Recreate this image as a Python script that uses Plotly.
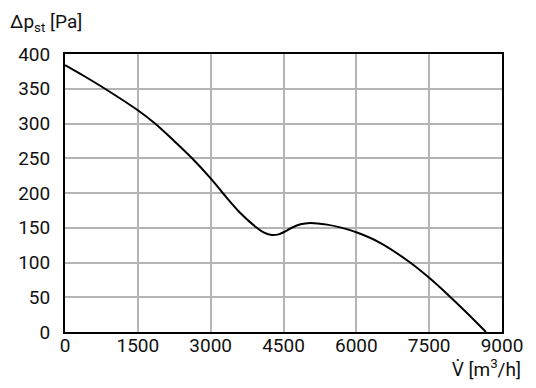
import plotly.graph_objects as go

flow = [0, 400, 824, 1500, 1854, 2200, 2617, 3000, 3249, 3600, 3950, 4100, 4259, 4400, 4500, 4671, 4850, 5048, 5400, 5666, 6000, 6500, 7108, 7500, 7897, 8300, 8670]
pressure = [384, 368, 350, 319, 300, 278, 250, 221, 200, 172, 150, 143, 139.5, 140.5, 143.5, 150, 155, 157, 154.5, 150.5, 143.5, 128, 100, 78, 53, 26, 0]

x_ticks = [0, 1500, 3000, 4500, 6000, 7500, 9000]
y_ticks = [0, 50, 100, 150, 200, 250, 300, 350, 400]

FONT = "Roboto"

fig = go.Figure()
fig.add_trace(go.Scatter(
    x=flow, y=pressure, mode="lines",
    line=dict(color="black", width=2, shape="spline", smoothing=1.0),
    hoverinfo="skip", showlegend=False,
))

axis_common = dict(
    showline=True, linecolor="black", linewidth=2, mirror=True,
    showgrid=True, gridcolor="#b4b4b4", gridwidth=1.5,
    zeroline=False, ticks="", automargin=False,
    tickfont=dict(family=FONT, size=19, color="#111"),
)

# page body has an 8px default margin, so the figure is 8px smaller and offset
fig.update_layout(
    template="none",
    width=528, height=380,
    margin=dict(l=57, r=34, t=46, b=56),
    paper_bgcolor="white", plot_bgcolor="white",
    xaxis=dict(range=[0, 9000], tickvals=x_ticks, ticktext=[str(v) for v in x_ticks],
               ticklabelstandoff=-5, **axis_common),
    yaxis=dict(range=[0, 400], tickvals=y_ticks, ticktext=[str(v) for v in y_ticks],
               ticklabelstandoff=9, **axis_common),
    annotations=[
        dict(text="Δp<sub>st</sub> [Pa]", xref="paper", yref="paper",
             x=-57/437, y=1 + 32/278.5, xanchor="left", yanchor="middle",
             showarrow=False, font=dict(family=FONT, size=19, color="#111")),
        dict(text="<span style=\"font-family:'DejaVu Sans Condensed','DejaVu Sans'\">V\u0307</span> [m<sup>3</sup>/h]",
             xref="paper", yref="paper",
             x=1 + 21/437, y=-22/278.5, xanchor="right", yanchor="top",
             showarrow=False, font=dict(family=FONT, size=19, color="#111")),
    ],
)

fig.write_html("out.html")
